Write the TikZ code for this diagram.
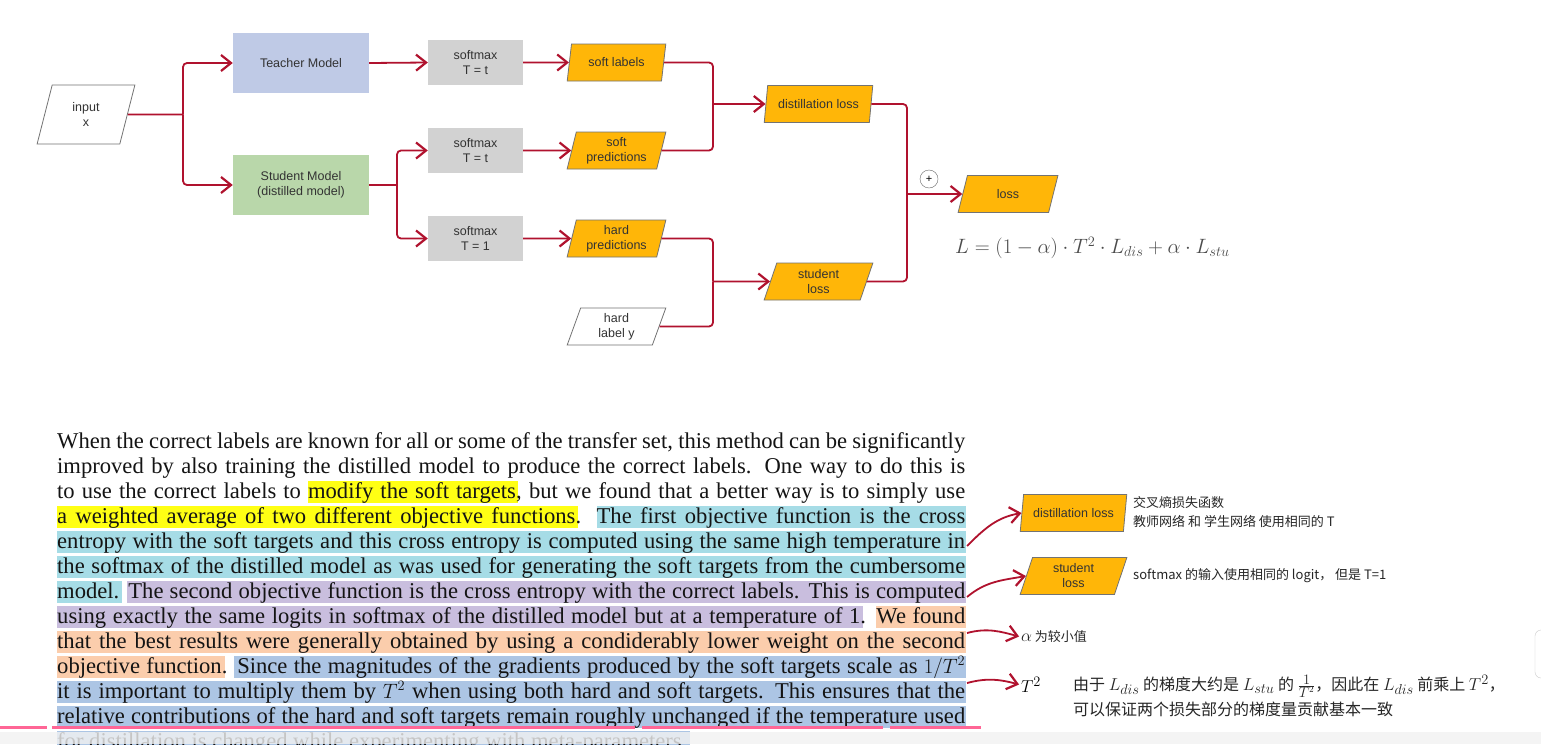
\documentclass[tikz,border=0pt]{standalone}
\usepackage{fontspec}
\setmainfont{Liberation Serif}
\newfontfamily\diafont{Liberation Sans}
\newfontfamily\cjk{Noto Sans CJK SC}
\usetikzlibrary{arrows.meta,shapes.geometric}

\definecolor{wirered}{RGB}{176,18,46}
\definecolor{teacherblue}{RGB}{191,202,230}
\definecolor{studentgreen}{RGB}{185,215,170}
\definecolor{softgray}{RGB}{210,210,210}
\definecolor{lossorange}{RGB}{255,182,8}
\definecolor{hlyellow}{RGB}{255,255,20}
\definecolor{hlcyan}{RGB}{166,220,230}
\definecolor{hlpurple}{RGB}{201,190,222}
\definecolor{hlorange}{RGB}{251,205,172}
\definecolor{hlblue}{RGB}{172,197,228}
\definecolor{markpink}{RGB}{255,102,150}

\newcommand{\notemath}[1]{{\fontsize{19}{24}\selectfont$#1$}}

\begin{document}
\begin{tikzpicture}[x=1pt, y=-1pt,
    wire/.style={draw=wirered, line width=1.8pt, rounded corners=4pt},
    tip/.style={-{Straight Barb[length=10pt, width=16pt, line width=2.2pt]}},
    model/.style={rectangle, minimum width=136pt, minimum height=60pt, align=center,
                  font=\diafont\fontsize{12.5}{15}\selectfont, text=black!80},
    smax/.style={rectangle, fill=softgray, minimum width=95pt, minimum height=45pt, align=center,
                 font=\diafont\fontsize{12.5}{15}\selectfont, text=black!80},
    data/.style={trapezium, trapezium left angle=76, trapezium right angle=104,
                 trapezium stretches=true, draw=black!55, line width=0.8pt,
                 minimum width=99pt, minimum height=37pt, align=center, inner sep=1pt,
                 font=\diafont\fontsize{12.5}{15}\selectfont, text=black!80},
    pline/.style={anchor=base west, inner sep=0pt, font=\fontsize{22.6}{25}\selectfont, text=black!92},
    note/.style={anchor=west, inner sep=0pt, align=left, font=\cjk\fontsize{13}{19}\selectfont, text=black!85}]

    \useasboundingbox (0,0) rectangle (1541,744);
    \fill[white] (0,0) rectangle (1541,744);

    \node[data, minimum width=98pt, minimum height=59pt] (input) at (86,114.5) {input\\x};
    \node[model, fill=teacherblue] (teacher) at (301,63) {Teacher Model};
    \node[model, fill=studentgreen] (student) at (301,185) {Student Model\\(distilled model)};
    \node[smax] (smteach) at (475.5,62.5) {softmax\\T = t};
    \node[smax] (smsoft) at (475.5,150.5) {softmax\\T = t};
    \node[smax] (smhard) at (475.5,238.5) {softmax\\T = 1};
    \node[data, fill=lossorange] (softlab) at (616.5,62.5) {soft labels};
    \node[data, fill=lossorange] (softpred) at (616.5,150.5) {soft\\predictions};
    \node[data, fill=lossorange] (hardpred) at (616.5,238.5) {hard\\predictions};
    \node[data, fill=white] (hardlab) at (616.5,326.5) {hard\\label y};
    \node[data, fill=lossorange, minimum width=109pt] (distloss) at (818.5,104) {distillation loss};
    \node[data, fill=lossorange, minimum width=109pt] (stuloss) at (818.5,281.5) {student\\loss};
    \node[data, fill=lossorange, minimum width=100pt] (loss) at (1008,194) {loss};
    \node[circle, draw=black!60, minimum size=18pt, inner sep=0pt,
          font=\diafont\fontsize{11}{11}\selectfont] (plus) at (929,179) {+};
    \node[anchor=west, inner sep=0pt, text=black!70, font=\fontsize{20.5}{24}\selectfont] (formula)
          at (955,248) {$L=(1-\alpha)\cdot T^2\cdot L_{dis}+\alpha\cdot L_{stu}$};

    \coordinate (forkin) at (183,114.5);
    \coordinate (forkstu) at (397,185);
    \coordinate (joindis) at (713,104);
    \coordinate (joinstu) at (713,281.5);
    \coordinate (joinloss) at (907,194);

    \draw[wire] (input.east) -- (forkin);
    \draw[wire, tip] (forkin) |- (teacher.west);
    \draw[wire, tip] (forkin) |- (student.west);
    \draw[wire, tip] (teacher.east) -- (smteach.west);
    \draw[wire] (student.east) -- (forkstu);
    \draw[wire, tip] (forkstu) |- (smsoft.west);
    \draw[wire, tip] (forkstu) |- (smhard.west);
    \draw[wire, tip] (smteach.east) -- (softlab.west);
    \draw[wire, tip] (smsoft.east) -- (softpred.west);
    \draw[wire, tip] (smhard.east) -- (hardpred.west);
    \draw[wire] (softlab.east) -| (joindis);
    \draw[wire] (softpred.east) -| (joindis);
    \draw[wire, tip] (joindis) -- (distloss.west);
    \draw[wire] (hardpred.east) -| (joinstu);
    \draw[wire] (hardlab.east) -| (joinstu);
    \draw[wire, tip] (joinstu) -- (stuloss.west);
    \draw[wire] (distloss.east) -| (joinloss);
    \draw[wire] (stuloss.east) -| (joinloss);
    \draw[wire, tip] (joinloss) -- (loss.west);

    \fill[hlyellow] (308,481) rectangle (518,503);
    \fill[hlyellow] (57,506) rectangle (578,528);
    \fill[hlcyan]   (597,506) rectangle (966,528);
    \fill[hlcyan]   (57,531) rectangle (966,553);
    \fill[hlcyan]   (57,556) rectangle (966,578);
    \fill[hlcyan]   (57,581) rectangle (122,603);
    \fill[hlpurple] (127,581) rectangle (966,603);
    \fill[hlpurple] (57,606) rectangle (863,628);
    \fill[hlorange] (876,606) rectangle (966,628);
    \fill[hlorange] (57,631) rectangle (966,653);
    \fill[hlorange] (57,656) rectangle (225,678);
    \fill[hlblue]   (234,656) rectangle (966,678);
    \fill[hlblue]   (57,681) rectangle (966,703);
    \fill[hlblue]   (57,706) rectangle (966,728);
    \fill[hlblue]   (57,731) rectangle (690,753);

    \node[pline] (l1) at (57,448) {\makebox[908pt][s]{When the correct labels are known for all or some of the transfer set, this method can be significantly}};
    \node[pline] (l2) at (57,473) {\makebox[908pt][s]{improved by also training the distilled model to produce the correct labels. One way to do this is}};
    \node[pline] (l3) at (57,498) {\makebox[908pt][s]{to use the correct labels to modify the soft targets, but we found that a better way is to simply use}};
    \node[pline] (l4) at (57,523) {\makebox[908pt][s]{a weighted average of two different objective functions. The first objective function is the cross}};
    \node[pline] (l5) at (57,548) {\makebox[908pt][s]{entropy with the soft targets and this cross entropy is computed using the same high temperature in}};
    \node[pline] (l6) at (57,573) {\makebox[908pt][s]{the softmax of the distilled model as was used for generating the soft targets from the cumbersome}};
    \node[pline] (l7) at (57,598) {\makebox[908pt][s]{model. The second objective function is the cross entropy with the correct labels. This is computed}};
    \node[pline] (l8) at (57,623) {\makebox[908pt][s]{using exactly the same logits in softmax of the distilled model but at a temperature of 1. We found}};
    \node[pline] (l9) at (57,648) {\makebox[908pt][s]{that the best results were generally obtained by using a condiderably lower weight on the second}};
    \node[pline] (l10) at (57,673) {\makebox[908pt][s]{objective function. Since the magnitudes of the gradients produced by the soft targets scale as $1/T^2$}};
    \node[pline] (l11) at (57,698) {\makebox[908pt][s]{it is important to multiply them by $T^2$ when using both hard and soft targets. This ensures that the}};
    \node[pline] (l12) at (57,723) {\makebox[908pt][s]{relative contributions of the hard and soft targets remain roughly unchanged if the temperature used}};
    \node[pline] (l13) at (57,748) {for distillation is changed while experimenting with meta-parameters.};

    \node[data, fill=lossorange, minimum width=107pt] (distnote) at (1073.5,513) {distillation loss};
    \node[data, fill=lossorange, minimum width=107pt] (stunote) at (1073.5,576) {student\\loss};
    \node[note] (crossent) at (1133,512.5) {交叉熵损失函数\\教师网络 和 学生网络 使用相同的 T};
    \node[note] (logitnote) at (1133,576) {softmax 的输入使用相同的 logit， 但是 T=1};
    \node[note] (alphanote) at (1021,637) {\notemath{\alpha} 为较小值};
    \node[anchor=west, inner sep=0pt, font=\fontsize{19}{24}\selectfont] (tsq) at (1021,685) {$T^2$};
    \node[note, font=\cjk\fontsize{16}{25}\selectfont] (gradnote) at (1073,696)
          {由于 \notemath{L_{dis}} 的梯度大约是 \notemath{L_{stu}} 的 \notemath{\frac{1}{T^2}}，因此在 \notemath{L_{dis}} 前乘上 \notemath{T^2}，\\可以保证两个损失部分的梯度量贡献基本一致};

    \coordinate (from1) at (967,546);
    \coordinate (from2) at (967,597);
    \coordinate (from3) at (967,633);
    \coordinate (from4) at (967,683);
    \draw[wire, tip] (from1) to[out=45, in=190] (distnote.west);
    \draw[wire, tip] (from2) to[out=40, in=190] (stunote.west);
    \draw[wire, tip, shorten >=2pt] (from3) to[out=15, in=165] (alphanote.west);
    \draw[wire, tip, shorten >=2pt] (from4) to[out=15, in=165] (tsq.west);

    \fill[gray!10, opacity=0.8] (0,732) rectangle (1541,744);
    \draw[markpink, line width=3pt] (0,727) -- (47,727);
    \draw[markpink, line width=3pt] (52,727) -- (635,727);
    \draw[markpink, line width=3pt] (642,727) -- (883,727);
    \draw[markpink, line width=3pt] (890,727) -- (981,727);
    \draw[black!20, fill=white, rounded corners=6pt] (1535,630) rectangle (1560,678);
\end{tikzpicture}
\end{document}
